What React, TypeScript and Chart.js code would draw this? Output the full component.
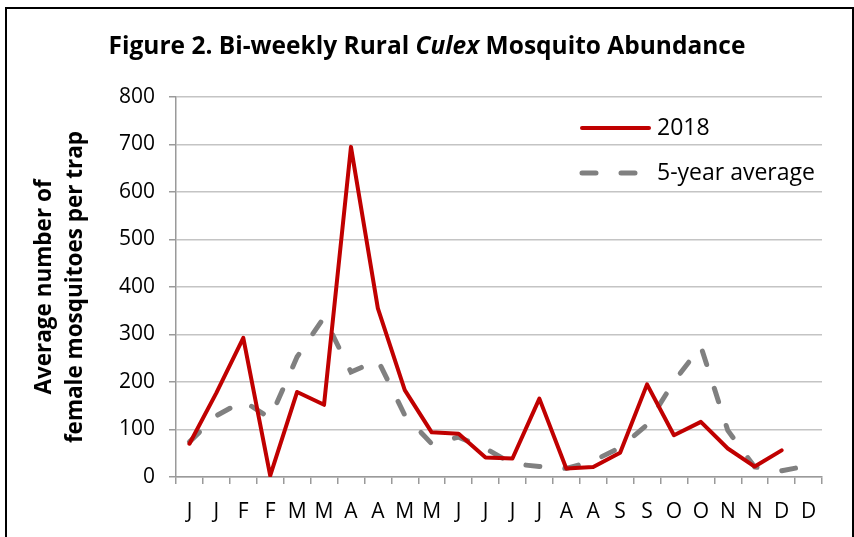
import React, { useEffect, useRef } from "react";
import { Chart, registerables } from "chart.js";

Chart.register(...registerables);

const categories = ["J", "J", "F", "F", "M", "M", "A", "A", "M", "M", "J", "J", "J", "J", "A", "A", "S", "S", "O", "O", "N", "N", "D", "D"];
const series2018 = [70, 177, 293, 3, 179, 152, 695, 355, 183, 94, 91, 41, 39, 165, 18, 21, 51, 195, 88, 116, 60, 22, 56, null];
const series5yr = [74, 129, 160, 124, 253, 336, 221, 246, 130, 70, 84, 60, 28, 22, 18, 34, 62, 110, 201, 275, 98, 21, 13, 24];
const yTickValues = [0, 100, 200, 300, 400, 500, 600, 700, 800];
const legendLabels = ["2018", "5-year average"];
const titleParts = [
  { text: "Figure 2. Bi-weekly Rural ", italic: false },
  { text: "Culex", italic: true },
  { text: " Mosquito Abundance", italic: false },
];
const yAxisTitle = ["Average number of", "female mosquitoes per trap"];

const FONT = "'Open Sans', 'Liberation Sans', sans-serif";

const titlePlugin = {
  id: "mixedTitle",
  afterDraw(chart: any) {
    const ctx = chart.ctx as CanvasRenderingContext2D;
    ctx.save();
    const size = 24.5;
    const fonts = titleParts.map((p) => `${p.italic ? "italic " : ""}bold ${size}px ${FONT}`);
    const widths = titleParts.map((p, i) => {
      ctx.font = fonts[i];
      return ctx.measureText(p.text).width;
    });
    const total = widths.reduce((a, b) => a + b, 0);
    let x = 427 - total / 2;
    ctx.textBaseline = "middle";
    ctx.textAlign = "left";
    ctx.fillStyle = "#000";
    titleParts.forEach((p, i) => {
      ctx.font = fonts[i];
      ctx.fillText(p.text, x, 47);
      x += widths[i];
    });
    ctx.restore();
  },
};

const legendPlugin = {
  id: "insideLegend",
  afterDatasetsDraw(chart: any) {
    const ctx = chart.ctx as CanvasRenderingContext2D;
    const area = chart.chartArea;
    ctx.save();
    chart.data.datasets.forEach((ds: any, i: number) => {
      const y = area.top + 31 + i * 45;
      const x0 = area.right - 240;
      const x1 = area.right - 173;
      ctx.beginPath();
      ctx.strokeStyle = ds.borderColor;
      ctx.lineWidth = ds.borderWidth;
      ctx.lineCap = "round";
      ctx.setLineDash(ds.borderDash || []);
      ctx.moveTo(x0, y);
      ctx.lineTo(x1, y);
      ctx.stroke();
      ctx.setLineDash([]);
      ctx.fillStyle = "#000";
      ctx.font = `23px ${FONT}`;
      ctx.textBaseline = "middle";
      ctx.textAlign = "left";
      ctx.fillText(legendLabels[i], area.right - 165, y);
    });
    ctx.restore();
  },
};

export default function App() {
  const canvasRef = useRef<HTMLCanvasElement | null>(null);

  useEffect(() => {
    const canvas = canvasRef.current;
    if (!canvas) return;
    const chart = new Chart(canvas, {
      type: "line",
      data: {
        labels: categories,
        datasets: [
          {
            label: legendLabels[0],
            data: series2018,
            borderColor: "#c00000",
            backgroundColor: "#c00000",
            borderWidth: 4,
            pointRadius: 0,
            tension: 0,
            borderCapStyle: "round",
            borderJoinStyle: "round",
          },
          {
            label: legendLabels[1],
            data: series5yr,
            borderColor: "#808080",
            backgroundColor: "#808080",
            borderWidth: 5,
            borderDash: [14, 25],
            borderCapStyle: "round",
            pointRadius: 0,
            tension: 0,
          },
        ],
      },
      options: {
        responsive: false,
        animation: false,
        events: [],
        layout: { padding: { top: 97, right: 32, left: 0, bottom: 0 } },
        plugins: {
          legend: { display: false },
          title: { display: false },
          tooltip: { enabled: false },
        },
        scales: {
          x: {
            type: "category",
            offset: true,
            grid: {
              offset: true,
              drawOnChartArea: false,
              drawTicks: true,
              tickLength: 7,
              tickColor: "#9a9a9a",
              lineWidth: 1.5,
            },
            border: { display: true, color: "#9a9a9a", width: 1.5 },
            ticks: {
              color: "#000",
              font: { family: FONT, size: 21 },
              padding: 15,
              maxRotation: 0,
              autoSkip: false,
            },
            afterFit: (s: any) => {
              s.height = 60;
            },
          },
          y: {
            min: 0,
            max: 800,
            afterBuildTicks: (s: any) => {
              s.ticks = yTickValues.map((v) => ({ value: v }));
            },
            grid: {
              color: "#c4c4c4",
              lineWidth: 1.5,
              tickLength: 7,
              tickColor: "#9a9a9a",
            },
            border: { display: true, color: "#9a9a9a", width: 1.5 },
            ticks: {
              color: "#000",
              font: { family: FONT, size: 21 },
              padding: 14,
            },
            title: {
              display: true,
              text: yAxisTitle,
              color: "#000",
              font: { family: FONT, size: 22.5, weight: "bold", lineHeight: 1.38 },
              padding: { top: 29.5, bottom: 0 },
            },
            afterFit: (s: any) => {
              s.width = 176;
            },
          },
        },
      },
      plugins: [titlePlugin, legendPlugin],
    });
    return () => chart.destroy();
  }, []);

  return (
    <div style={{ position: "fixed", left: 0, top: 0, width: 854, height: 537, overflow: "hidden", background: "#fff" }}>
      <canvas ref={canvasRef} width={854} height={537} style={{ display: "block" }} />
      <div
        style={{
          position: "absolute",
          left: 5,
          top: 7,
          width: 845,
          height: 540,
          border: "2px solid #000",
          pointerEvents: "none",
        }}
      />
    </div>
  );
}
